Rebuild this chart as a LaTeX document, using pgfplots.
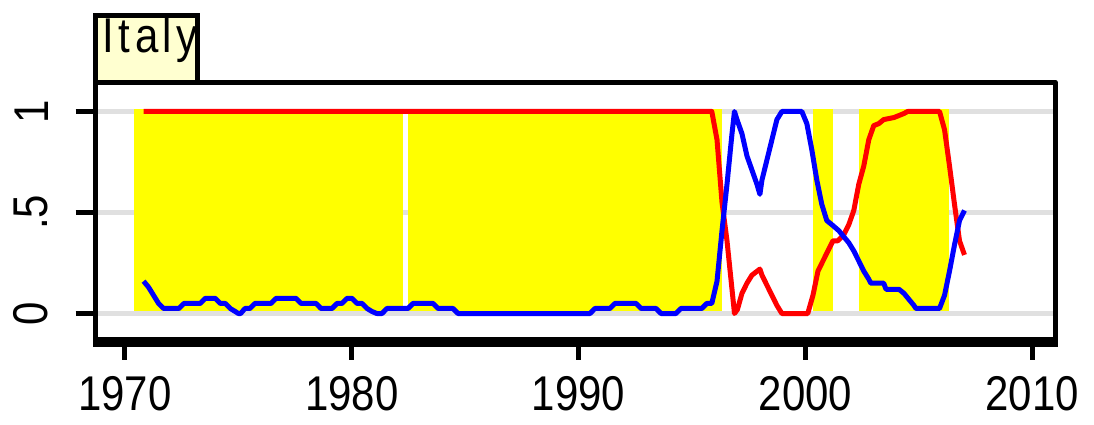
\documentclass[border=0pt]{standalone}
\usepackage{fontspec}
\setmainfont{Liberation Sans}[FakeStretch=0.86]
\usepackage{pgfplots}
\pgfplotsset{compat=1.18}
\definecolor{gridgray}{RGB}{224,224,224}
\definecolor{titlefill}{RGB}{255,255,208}
\definecolor{yel}{RGB}{255,255,0}
\definecolor{sred}{RGB}{255,0,0}
\definecolor{sblue}{RGB}{0,0,255}
\newcommand{\lblfont}{\fontsize{24.4}{24.4}\selectfont}
\begin{document}
\begin{tikzpicture}
\begin{axis}[
  at={(0,0)}, anchor=south west,
  scale only axis, width=479.75pt, height=128.75pt,
  xmin=1968.7, xmax=2011.0, ymin=-0.1287, ymax=1.146,
  axis line style={line width=2.5pt, black},
  xtick={1970,1980,1990,2000,2010},
  xticklabels={1970,1980,1990,2000,2010},
  ytick={0,0.5,1}, yticklabels={0,.5,1},
  xtick pos=bottom, ytick pos=left,
  tick align=outside, major tick length=10pt,
  tick style={line width=2.5pt, black},
  ymajorgrids, grid style={line width=2.5pt, gridgray},
  xticklabel style={font=\lblfont, anchor=north, inner sep=0pt},
  yticklabel style={font=\lblfont, rotate=90, anchor=south, inner sep=0pt},
  xticklabel shift=8.5pt, yticklabel shift=13.5pt,
  line join=round,
]
% shaded periods
\addplot[fill=yel, draw=none] coordinates {(1970.40,0.0124)(1970.40,1.0124)(1982.26,1.0124)(1982.26,0.0124)} -- cycle;
\addplot[fill=yel, draw=none] coordinates {(1982.48,0.0124)(1982.48,1.0124)(1996.32,1.0124)(1996.32,0.0124)} -- cycle;
\addplot[fill=yel, draw=none] coordinates {(2000.33,0.0124)(2000.33,1.0124)(2001.21,1.0124)(2001.21,0.0124)} -- cycle;
\addplot[fill=yel, draw=none] coordinates {(2002.35,0.0124)(2002.35,1.0124)(2006.33,1.0124)(2006.33,0.0124)} -- cycle;
% red series
\addplot[sred, line width=2.5pt, mark=none] coordinates {
(1970.82,1.0)(1995.87,1.0)(1996.10,0.86)(1996.32,0.55)(1996.54,0.36)(1996.76,0.12)
(1996.87,0.0)(1997.00,0.02)(1997.20,0.10)(1997.42,0.15)(1997.64,0.19)(1997.99,0.22)
(1998.08,0.19)(1998.30,0.14)(1998.52,0.09)(1998.74,0.04)(1998.96,0.0)(2000.10,0.0)
(2000.33,0.09)(2000.55,0.21)(2000.77,0.26)(2000.99,0.31)(2001.21,0.36)(2001.43,0.36)
(2001.69,0.39)(2001.91,0.44)(2002.13,0.51)(2002.35,0.64)(2002.57,0.73)(2002.79,0.86)
(2003.01,0.93)(2003.23,0.94)(2003.45,0.96)(2003.90,0.97)(2004.34,0.99)(2004.50,1.0)
(2005.91,1.0)(2006.13,0.91)(2006.35,0.73)(2006.57,0.54)(2006.79,0.36)(2007.01,0.29)
};
% blue series
\addplot[sblue, line width=2.5pt, mark=none] coordinates {
(1970.82,0.16)(1971.04,0.13)(1971.26,0.09)(1971.48,0.05)(1971.70,0.025)(1972.38,0.025)
(1972.60,0.05)(1973.32,0.05)(1973.54,0.075)(1973.98,0.075)(1974.20,0.05)(1974.42,0.05)
(1974.64,0.025)(1974.86,0.01)(1975.00,0.0)(1975.10,0.0)(1975.29,0.025)(1975.51,0.025)
(1975.73,0.05)(1976.44,0.05)(1976.66,0.075)(1977.54,0.075)(1977.76,0.05)(1978.42,0.05)
(1978.64,0.025)(1979.13,0.025)(1979.35,0.05)(1979.57,0.05)(1979.79,0.075)(1980.01,0.075)
(1980.23,0.05)(1980.45,0.05)(1980.67,0.025)(1980.89,0.01)(1981.10,0.0)(1981.33,0.0)
(1981.55,0.025)(1982.48,0.025)(1982.70,0.05)(1983.58,0.05)(1983.80,0.025)(1984.46,0.025)
(1984.68,0.0)(1990.50,0.0)(1990.72,0.025)(1991.38,0.025)(1991.60,0.05)(1992.53,0.05)
(1992.75,0.025)(1993.41,0.025)(1993.63,0.0)(1994.29,0.0)(1994.51,0.025)(1995.43,0.025)
(1995.65,0.05)(1995.87,0.05)(1996.10,0.16)(1996.32,0.41)(1996.54,0.64)(1996.76,0.89)
(1996.87,1.0)(1996.98,0.96)(1997.20,0.89)(1997.42,0.78)(1997.64,0.71)(1997.86,0.64)
(1997.99,0.59)(1998.08,0.66)(1998.30,0.76)(1998.52,0.86)(1998.74,0.96)(1998.96,1.0)
(1999.84,1.0)(2000.06,0.94)(2000.28,0.81)(2000.50,0.66)(2000.72,0.54)(2000.94,0.46)
(2001.16,0.44)(2001.47,0.41)(2001.69,0.38)(2001.91,0.35)(2002.13,0.31)(2002.35,0.26)
(2002.57,0.21)(2002.79,0.17)(2002.88,0.15)(2003.45,0.15)(2003.55,0.12)(2004.12,0.12)
(2004.34,0.10)(2004.56,0.07)(2004.78,0.04)(2004.87,0.025)(2005.91,0.025)(2006.13,0.09)
(2006.35,0.21)(2006.57,0.34)(2006.79,0.46)(2007.01,0.51)
};
\end{axis}
% thicker bottom edge (plot region border plus axis line)
\draw[line width=5pt] (-1.25pt,-1.25pt) -- (481pt,-1.25pt);
% title box
\draw[line width=2.5pt, fill=titlefill] (0,128.75pt) rectangle (51pt,162pt);
\node[anchor=base west, inner sep=0pt, font=\lblfont\addfontfeatures{LetterSpace=9}] at (3.5pt,143.25pt) {Italy};
\pgfresetboundingbox
\path[use as bounding box] (-47.75pt,-42.25pt) rectangle (499.25pt,169.75pt);
\end{tikzpicture}
\end{document}
